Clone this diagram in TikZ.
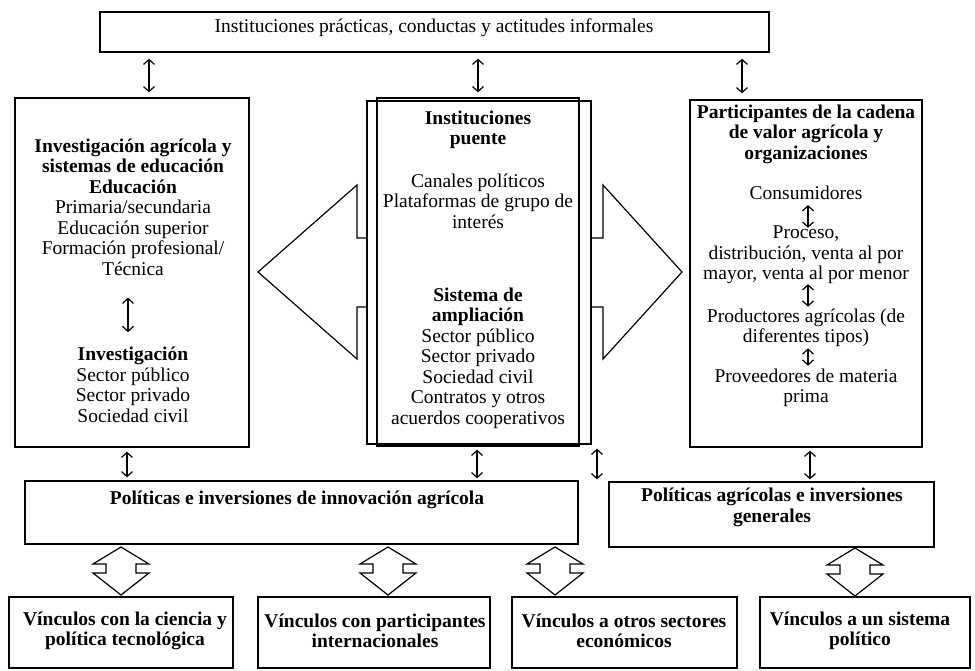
\documentclass[tikz,border=0pt]{standalone}
\usepackage{fontspec}
\setmainfont{Liberation Serif}
\usetikzlibrary{arrows.meta,calc}
\begin{document}
\begin{tikzpicture}[x=1pt,y=-1pt,
  every node/.style={font=\fontsize{19.5}{20.5}\selectfont, inner sep=0pt},
  panel/.style={draw, line width=1.3pt, rectangle, inner sep=0pt},
  txt/.style={align=center},
  dbl/.style={{Straight Barb[length=5pt,width=11pt]}-{Straight Barb[length=5pt,width=11pt]}, line width=1.2pt},
  outline/.style={line width=1.2pt, line join=miter},
  blockarrow/.pic={\draw[outline] (0,0) -- (-28,17) -- (-15,17) -- (-15,26) -- (-28,26) -- (0,48)
        -- (28,26) -- (15,26) -- (15,17) -- (28,17) -- cycle;}
]
\useasboundingbox (0,0) rectangle (975,670);

% ---- frames ----
\node[panel, minimum width=669, minimum height=40] (top) at (434.5,32) {};
\node[panel, minimum width=234, minimum height=349] (lft) at (132,272.5) {};
\node[panel, minimum width=224, minimum height=343] (ctrA) at (479,272.5) {};
\node[panel, minimum width=202, minimum height=348] (ctrB) at (478,272) {};
\node[panel, minimum width=232, minimum height=347] (rgt) at (806,273.5) {};
\node[panel, minimum width=553, minimum height=63] (pol1) at (301.5,512.5) {};
\node[panel, minimum width=325, minimum height=65] (pol2) at (771.5,514.5) {};
\node[panel, minimum width=224, minimum height=71] (b1) at (121,632.5) {};
\node[panel, minimum width=232, minimum height=71] (b2) at (374,632.5) {};
\node[panel, minimum width=225, minimum height=71] (b3) at (624.5,632.5) {};
\node[panel, minimum width=210, minimum height=71] (b4) at (865,632.5) {};

% ---- texts ----
\node[txt] (ttop) at (434,28) {Instituciones prácticas, conductas y actitudes informales};

\node[txt] (l1) at (133,207) {\textbf{Investigación agrícola y}\\\textbf{sistemas de educación}\\\textbf{Educación}\\Primaria/secundaria\\Educación superior\\Formación profesional/\\Técnica};
\node[txt] (l2) at (133,385) {\textbf{Investigación}\\Sector público\\Sector privado\\Sociedad civil};

\node[txt] (c1) at (478,130) {\textbf{Instituciones}\\\textbf{puente}};
\node[txt] (c2) at (478,201) {Canales políticos\\Plataformas de grupo de\\interés};
\node[txt] (c3) at (478,358) {\textbf{Sistema de}\\\textbf{ampliación}\\Sector público\\Sector privado\\Sociedad civil\\Contratos y otros\\acuerdos cooperativos};

\node[txt] (r1) at (806,134) {\textbf{Participantes de la cadena}\\\textbf{de valor agrícola y}\\\textbf{organizaciones}};
\node[txt] (cons) at (806,193) {Consumidores};
\node[txt] (proc) at (806,255) {Proceso,\\distribución, venta al por\\mayor, venta al por menor};
\node[txt] (prod) at (806,328) {Productores agrícolas (de\\diferentes tipos)};
\node[txt] (prov) at (806,388) {Proveedores de materia\\prima};

\node[txt] (tp1) at (297,500) {\textbf{Políticas e inversiones de innovación agrícola}};
\node[txt] (tp2) at (772,507.5) {\textbf{Políticas agrícolas e inversiones}\\\textbf{generales}};

\node[txt] (tb1) at (125,631) {\textbf{Vínculos con la ciencia y}\\\textbf{política tecnológica}};
\node[txt] (tb2) at (375,631) {\textbf{Vínculos con participantes}\\\textbf{internacionales}};
\node[txt] (tb3) at (624,631) {\textbf{Vínculos a otros sectores}\\\textbf{económicos}};
\node[txt] (tb4) at (860,631) {\textbf{Vínculos a un sistema}\\\textbf{político}};

% ---- vertical links ----
\coordinate (xa) at (149,0);
\coordinate (xb) at (478,0);
\coordinate (xc) at (742,0);
\coordinate (xd) at (127,0);
\coordinate (xe) at (477,0);
\coordinate (xf) at (597,0);
\coordinate (xg) at (810,0);
\coordinate (xh) at (128,0);
\coordinate (xi) at (808,0);

\draw[dbl, shorten <=6pt, shorten >=5pt] (top.south -| xa) -- (lft.north -| xa);
\draw[dbl, shorten <=6pt, shorten >=5pt] (top.south -| xb) -- (ctrB.north -| xb);
\draw[dbl, shorten <=6pt, shorten >=6pt] (top.south -| xc) -- (rgt.north -| xc);
\draw[dbl, shorten <=4pt, shorten >=3pt] (lft.south -| xd) -- (pol1.north -| xd);
\draw[dbl, shorten <=3pt, shorten >=2pt] (ctrB.south -| xe) -- (pol1.north -| xe);
\draw[dbl, shorten <=4pt, shorten >=1pt] (ctrA.south -| xf) -- (pol1.north -| xf);
\draw[dbl, shorten <=3pt, shorten >=2pt] (rgt.south -| xg) -- (pol2.north -| xg);

\draw[dbl, shorten <=22pt, shorten >=15pt] (l1.south -| xh) -- (l2.north -| xh);
\draw[dbl, shorten <=5pt, shorten >=-2pt] (cons.south -| xi) -- (proc.north -| xi);
\draw[dbl, shorten <=0pt, shorten >=2pt] (proc.south -| xi) -- (prod.north -| xi);
\draw[dbl, shorten <=1pt, shorten >=3pt] (prod.south -| xi) -- (prov.north -| xi);

% ---- wide arrows from the bridging institutions ----
\draw[outline] (367,238) -- (357,238) -- (357,185) -- (258,272) -- (357,359) -- (357,307) -- (367,307);
\draw[outline] (591,238) -- (603,238) -- (603,185) -- (682,272) -- (603,359) -- (603,307) -- (591,307);

% ---- block arrows to the linkage boxes ----
\pic at (121,547) {blockarrow};
\pic at (388,547) {blockarrow};
\pic at (555,547) {blockarrow};
\pic at (855,548) {blockarrow};
\end{tikzpicture}
\end{document}
